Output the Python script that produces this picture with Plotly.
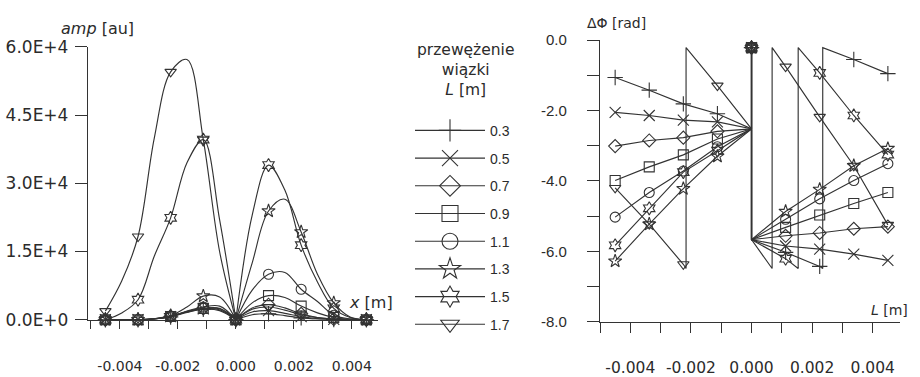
import plotly.graph_objects as go

# ---------------- data ----------------
# positions of the measured points (markers)
x_pts = [-0.0045, -0.003375, -0.00225, -0.001125, 0.0, 0.001125, 0.00225, 0.003375, 0.0045]
# amplitude curves are read on a finer grid (every half step); markers sit on every other value
x_amp = [-0.0045, -0.0039375, -0.003375, -0.0028125, -0.00225, -0.0016875, -0.001125, -0.0005625, 0.0,
         0.0005625, 0.001125, 0.0016875, 0.00225, 0.0028125, 0.003375, 0.0039375, 0.0045]
L_labels = ["0.3", "0.5", "0.7", "0.9", "1.1", "1.3", "1.5", "1.7"]

# amplitude [au]
amp_03 = [0, 0, 0, 150, 600, 1600, 2300, 2000, 0, 1100, 1300, 900, 400, 150, 50, 0, 0]
amp_05 = [0, 0, 0, 150, 700, 1700, 2400, 2200, 0, 1700, 2000, 1400, 700, 250, 80, 0, 0]
amp_07 = [0, 0, 0, 200, 750, 1800, 2500, 2400, 0, 2600, 3300, 2600, 1300, 500, 150, 50, 0]
amp_09 = [0, 0, 0, 200, 700, 1800, 2500, 2500, 0, 3700, 5300, 4900, 3000, 1500, 500, 100, 0]
amp_11 = [0, 0, 0, 200, 700, 1900, 2800, 3000, 0, 6500, 10000, 10400, 6700, 4000, 1000, 200, 0]
amp_13 = [0, 0, 0, 250, 900, 2800, 5200, 5000, 0, 12500, 23900, 26500, 19300, 10000, 3700, 600, 0]
amp_15 = [0, 1500, 4400, 14000, 22400, 34500, 39600, 22000, 0, 23000, 34000, 28500, 16400, 8300, 2500, 500, 0]
amp_17 = [1900, 8500, 18300, 40000, 54500, 57200, 39600, 15000, 0, 2300, 2800, 2100, 1100, 450, 150, 20, 0]

# phase [rad] (wrapped), at x_pts
ph_03 = [-1.06, -1.42, -1.81, -2.09, -0.21, -6.03, -6.43, -0.55, -0.95]
ph_05 = [-2.05, -2.14, -2.27, -2.32, -0.21, -5.85, -5.94, -6.08, -6.26]
ph_07 = [-3.01, -2.85, -2.77, -2.59, -0.21, -5.56, -5.48, -5.36, -5.30]
ph_09 = [-3.99, -3.60, -3.26, -2.81, -0.21, -5.32, -4.97, -4.64, -4.33]
ph_11 = [-5.03, -4.33, -3.72, -3.03, -0.21, -5.09, -4.51, -3.99, -3.51]
ph_13 = [-6.28, -5.23, -4.22, -3.30, -0.21, -4.87, -4.24, -3.57, -3.08]
ph_15 = [-5.83, -4.78, -3.75, -3.14, -0.21, -6.21, -0.93, -2.14, -3.25]
ph_17 = [-4.20, -5.23, -6.37, -1.29, -0.21, -0.75, -2.18, -3.57, -5.25]

# phase limits at x = 0 (from the left / from the right) and the wrap interval
ph_left_limit = -2.52
ph_right_limit = -5.67
wrap_top = -0.21
wrap_bottom = -6.49
# x positions where each series wraps
wraps_03 = [0.00235]
wraps_05 = []
wraps_07 = []
wraps_09 = []
wraps_11 = []
wraps_13 = []
wraps_15 = [0.00154]
wraps_17 = [-0.00216, 0.00068]

amp_tick_vals = [0, 15000, 30000, 45000, 60000]
amp_tick_text = ["0.0E+0", "1.5E+4", "3.0E+4", "4.5E+4", "6.0E+4"]
ph_tick_vals = [0, -2, -4, -6, -8]
ph_tick_text = ["0.0", "-2.0", "-4.0", "-6.0", "-8.0"]
x_tick_vals = [-0.004, -0.002, 0.0, 0.002, 0.004]
x_tick_text = ["-0.004", "-0.002", "0.000", "0.002", "0.004"]

amps = [amp_03, amp_05, amp_07, amp_09, amp_11, amp_13, amp_15, amp_17]
phases = [ph_03, ph_05, ph_07, ph_09, ph_11, ph_13, ph_15, ph_17]
wraps = [wraps_03, wraps_05, wraps_07, wraps_09, wraps_11, wraps_13, wraps_15, wraps_17]
symbols = ["cross-thin", "x-thin", "diamond-open", "square-open", "circle-open",
           "star-open", "hexagram-open", "triangle-down-open"]

# ---------------- style ----------------
LC = "#333333"
TC = "#2b2b2b"
DV = "DejaVu Sans"
LS = "Liberation Sans"

fig = go.Figure()


def mk(sym, size):
    return dict(symbol=sym, size=size, color=LC, line=dict(color=LC, width=1.1))


def phase_path(vals, wr):
    pts = []
    for xv, yv in zip(x_pts, vals):
        if xv == 0:
            pts += [(0.0, ph_left_limit), (0.0, yv), (0.0, ph_right_limit)]
        else:
            pts.append((xv, yv))
    for w in wr:
        pts += [(w, wrap_bottom), (w, wrap_top)]
    pts.sort(key=lambda p: p[0])
    return [p[0] for p in pts], [p[1] for p in pts]


mid = x_amp.index(0.0)
for i, lab in enumerate(L_labels):
    sym = symbols[i]
    msize = 11 if "thin" in sym else 10
    a = amps[i]
    # amplitude: two smooth halves meeting in a cusp at x = 0
    for xs, ys in ((x_amp[:mid + 1], a[:mid + 1]), (x_amp[mid:], a[mid:])):
        fig.add_trace(go.Scatter(x=xs, y=ys, mode="lines",
                                 line=dict(color=LC, width=1.15, shape="spline", smoothing=1.0),
                                 showlegend=False, xaxis="x", yaxis="y", hoverinfo="skip"))
    fig.add_trace(go.Scatter(x=x_amp[::2], y=a[::2], mode="markers", marker=mk(sym, msize),
                             cliponaxis=False, showlegend=False, xaxis="x", yaxis="y"))
    # phase
    px, py = phase_path(phases[i], wraps[i])
    fig.add_trace(go.Scatter(x=px, y=py, mode="lines", line=dict(color=LC, width=1.15),
                             showlegend=False, xaxis="x2", yaxis="y2", hoverinfo="skip"))
    fig.add_trace(go.Scatter(x=x_pts, y=phases[i], mode="markers", marker=mk(sym, msize),
                             cliponaxis=False, showlegend=False, xaxis="x2", yaxis="y2"))
    # legend entry
    fig.add_trace(go.Scatter(x=[None], y=[None], mode="lines+markers", name=lab,
                             line=dict(color=LC, width=1.1), marker=mk(sym, 16),
                             legendgroup=lab, xaxis="x", yaxis="y"))

axis_common = dict(showline=True, linecolor=LC, linewidth=1.3, ticks="outside", tickcolor=LC,
                   tickwidth=1.2, showgrid=False, zeroline=False)

fig.update_layout(
    width=920, height=377,
    margin=dict(l=0, r=0, t=0, b=0),
    paper_bgcolor="white", plot_bgcolor="white",
    font=dict(family=LS, color=TC),
    xaxis=dict(domain=[88 / 920, 378 / 920], range=[-0.0051, 0.0049], anchor="y",
               tickmode="array", tickvals=x_tick_vals, ticktext=x_tick_text, ticklen=8,
               ticklabelstandoff=25, tickfont=dict(family=DV, size=14, color=TC),
               minor=dict(tickmode="linear", tick0=0, dtick=0.001, ticklen=8, ticks="outside",
                          tickcolor=LC, tickwidth=1.2),
               **axis_common),
    yaxis=dict(domain=[1 - 328 / 377, 1 - 39 / 377], range=[0, 60000], anchor="x",
               tickmode="array", tickvals=amp_tick_vals, ticktext=amp_tick_text, ticklen=12,
               ticklabelstandoff=3, tickfont=dict(family=DV, size=17, color=TC),
               **axis_common),
    xaxis2=dict(domain=[600 / 920, 900 / 920], range=[-0.005, 0.0049], anchor="y2",
                tickmode="array", tickvals=x_tick_vals, ticktext=x_tick_text, ticklen=10,
                ticklabelstandoff=22, tickfont=dict(family=DV, size=15.5, color=TC),
                minor=dict(tickmode="linear", tick0=0, dtick=0.001, ticklen=10, ticks="outside",
                           tickcolor=LC, tickwidth=1.2),
                **axis_common),
    yaxis2=dict(domain=[1 - 330 / 377, 1 - 32 / 377], range=[-8, 0], anchor="x2",
                tickmode="array", tickvals=ph_tick_vals, ticktext=ph_tick_text, ticklen=12,
                ticklabelstandoff=17, tickfont=dict(family=LS, size=15, color=TC),
                minor=dict(tickmode="linear", tick0=0, dtick=1, ticklen=12, ticks="outside",
                           tickcolor=LC, tickwidth=1.2),
                **axis_common),
    legend=dict(x=410 / 920, y=1 - 111 / 377, xanchor="left", yanchor="top",
                traceorder="grouped", tracegroupgap=6.5, itemwidth=70,
                font=dict(family=LS, size=14, color=TC),
                bgcolor="rgba(0,0,0,0)"),
    showlegend=True,
)

# legend heading (centred lines)
fig.add_annotation(x=466 / 920, y=1 - 31 / 377, xref="paper", yref="paper", xanchor="center", yanchor="top",
                   text="przewężenie<br>wiązki<br><i>L</i> [m]", align="center", showarrow=False,
                   font=dict(family=DV, size=15.5, color=TC))
fig.add_annotation(x=59 / 920, y=1 - 20 / 377, xref="paper", yref="paper", xanchor="left", yanchor="middle",
                   text="<i>amp</i> [au]", showarrow=False, font=dict(family=DV, size=16, color=TC))
fig.add_annotation(x=395 / 920, y=1 - 310 / 377, xref="paper", yref="paper", xanchor="right", yanchor="middle",
                   text="<i>x</i> [m]", showarrow=False, font=dict(family=DV, size=16, color=TC))
fig.add_annotation(x=585 / 920, y=1 - 14 / 377, xref="paper", yref="paper", xanchor="left", yanchor="middle",
                   text="ΔΦ [rad]", showarrow=False, font=dict(family=DV, size=14, color=TC))
fig.add_annotation(x=910 / 920, y=1 - 318 / 377, xref="paper", yref="paper", xanchor="right", yanchor="middle",
                   text="<i>L</i> [m]", showarrow=False, font=dict(family=DV, size=14, color=TC))

fig.write_html("out.html")
